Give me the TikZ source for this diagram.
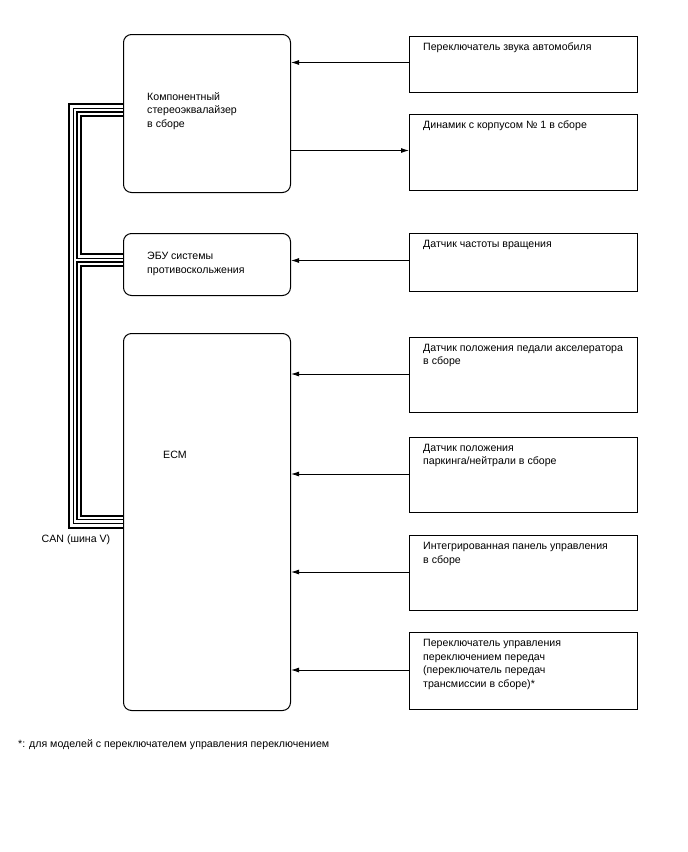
\documentclass[tikz,border=0pt]{standalone}
\usepackage{fontspec}
\setmainfont{Liberation Sans}
\usetikzlibrary{arrows.meta, positioning}

\begin{document}
\begin{tikzpicture}[x=1pt, y=-1pt, >={Latex[length=8pt,width=5pt]},
  font=\fontsize{10.6}{13.5}\selectfont,
  unit/.style={draw, line width=1pt, rounded corners=8pt, fill=white, anchor=north west, inner sep=0pt, minimum width=167pt},
  part/.style={draw, line width=1pt, anchor=north west, inner sep=0pt, minimum width=228pt},
  txt/.style={align=left, inner sep=0pt},
  sig/.style={->, line width=0.9pt}]
\useasboundingbox (0,0) rectangle (688,852);
% CAN bus, drawn before the units so their fill hides the ends
\coordinate (bus) at (75,300);
\foreach \w/\c in {14/black, 10/white, 5/black, 2.6/white}
  \draw[line width=\w pt, draw=\c] (123,110) -| (bus) |- (123,521.5)
    (123,260) -| (bus);
% units on the left
\node[unit, minimum height=158pt] (comp) at (123,34) {};
\node[unit, minimum height=62pt] (ebu) at (123,233) {};
\node[unit, minimum height=377pt] (ecm) at (123,333) {};
\node[txt, below right=58pt and 24pt of comp.north west] (comptext) {Компонентный\\стереоэквалайзер\\в сборе};
\node[txt, below right=19pt and 24pt of ebu.north west] (ebutext) {ЭБУ системы\\противоскольжения};
\node[txt, below right=118pt and 40pt of ecm.north west] (ecmtext) {ECM};
% parts on the right
\node[part, minimum height=56pt] (sw) at (409,36) {};
\node[part, minimum height=76pt] (spk) at (409,114) {};
\node[part, minimum height=58pt] (spd) at (409,233) {};
\node[part, minimum height=75pt] (app) at (409,337) {};
\node[part, minimum height=75pt] (pnp) at (409,437) {};
\node[part, minimum height=75pt] (icp) at (409,535) {};
\node[part, minimum height=77pt] (sls) at (409,632) {};
\node[txt, below right=7pt and 14pt of sw.north west] (swtext) {Переключатель звука автомобиля};
\node[txt, below right=7pt and 14pt of spk.north west] (spktext) {Динамик с корпусом № 1 в сборе};
\node[txt, below right=7pt and 14pt of spd.north west] (spdtext) {Датчик частоты вращения};
\node[txt, below right=7pt and 14pt of app.north west] (apptext) {Датчик положения педали акселератора\\в сборе};
\node[txt, below right=7pt and 14pt of pnp.north west] (pnptext) {Датчик положения\\паркинга/нейтрали в сборе};
\node[txt, below right=7pt and 14pt of icp.north west] (icptext) {Интегрированная панель управления\\в сборе};
\node[txt, below right=7pt and 14pt of sls.north west] (slstext) {Переключатель управления\\переключением передач\\(переключатель передач\\трансмиссии в сборе)*};
% signals
\draw[sig] ([yshift=2pt]sw.west) -- ([yshift=2pt]sw.west -| comp.east);
\draw[sig] ([yshift=2pt]spk.west -| comp.east) -- ([yshift=2pt]spk.west);
\draw[sig] ([yshift=2pt]spd.west) -- ([yshift=2pt]spd.west -| ebu.east);
\foreach \p in {app, pnp, icp, sls}
  \draw[sig] ([yshift=1pt]\p.west) -- ([yshift=1pt]\p.west -| ecm.east);
% labels
\node (canlabel) at (76,540) {CAN (шина V)};
\node[anchor=west, inner sep=0pt] (note) at (18,745) {*: для моделей с переключателем управления переключением};
\end{tikzpicture}
\end{document}
